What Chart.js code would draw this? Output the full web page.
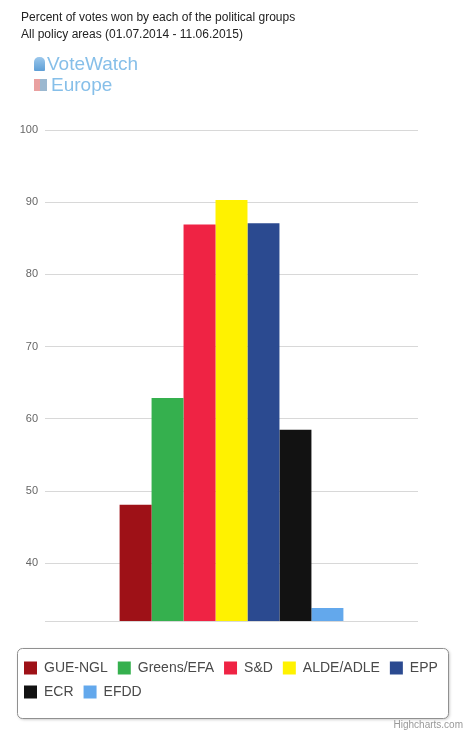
<!DOCTYPE html>
<html>
<head>
<meta charset="utf-8">
<script src="https://cdn.jsdelivr.net/npm/chart.js@4/dist/chart.umd.min.js"></script>
<style>
  html, body { margin: 0; padding: 0; background: #fff; }
  #wrap { position: relative; width: 464px; height: 731px; overflow: hidden; }
  #title { position: absolute; left: 21px; top: 9px; font: 12px "Liberation Sans", Arial, sans-serif; color: #222; line-height: 17px; white-space: nowrap; }
  #logo { position: absolute; left: 34px; top: 53px; font: 19px "Liberation Sans", Arial, sans-serif; color: #86bfe9; line-height: 21px; }
  #logo .row { display: flex; align-items: center; }
  #logo .ic { width: 11px; height: 14px; margin-right: 2px; }
  #credit { position: absolute; right: 1px; top: 719px; font: 10px "Liberation Sans", Arial, sans-serif; color: #999; }
  canvas { position: absolute; left: 0; top: 0; }
</style>
</head>
<body>
<div id="wrap">
  <canvas id="c" width="464" height="731"></canvas>
  <div id="title">Percent of votes won by each of the political groups<br>All policy areas (01.07.2014 - 11.06.2015)</div>
  <div id="logo">
    <div class="row"><span class="ic" style="background:linear-gradient(#9cc8ec,#5f9fd6);border-radius:5px 5px 1px 1px;"></span><span>VoteWatch</span></div>
    <div class="row"><span class="ic" style="background:linear-gradient(90deg,#e9a0a0 0 50%,#9bb8d0 50% 100%);height:12px;width:13px;"></span><span style="margin-left:2px">Europe</span></div>
  </div>
  <div id="credit">Highcharts.com</div>
</div>
<script>
const categories = [""];
const groups = ["GUE-NGL", "Greens/EFA", "S&D", "ALDE/ADLE", "EPP", "ECR", "EFDD"];
const values = [48.1, 62.9, 86.9, 90.3, 87.1, 58.5, 33.8];
const colors = ["#9e1117", "#35b04e", "#ef2344", "#fff200", "#2b4a90", "#121212", "#63a8ec"];
const yTicks = [40, 50, 60, 70, 80, 90, 100];

const legendFrame = {
  id: 'legendFrame',
  beforeDraw(chart) {
    const lg = chart.legend;
    if (!lg) return;
    const ctx = chart.ctx;
    const x = lg.left + 3, y = lg.top - 3, w = lg.right - lg.left - 19, h = lg.bottom - lg.top + 12;
    ctx.save();
    ctx.shadowColor = 'rgba(0,0,0,0.25)';
    ctx.shadowBlur = 3;
    ctx.shadowOffsetX = 1;
    ctx.shadowOffsetY = 1;
    ctx.fillStyle = '#fff';
    ctx.strokeStyle = '#909090';
    ctx.lineWidth = 1;
    ctx.beginPath();
    ctx.roundRect(x + 0.5, y + 0.5, w, h, 5);
    ctx.fill();
    ctx.shadowColor = 'transparent';
    ctx.stroke();
    ctx.restore();
  }
};

new Chart(document.getElementById('c'), {
  type: 'bar',
  data: {
    labels: categories,
    datasets: groups.map((g, i) => ({
      label: g,
      data: [values[i]],
      backgroundColor: colors[i],
      borderWidth: 0
    }))
  },
  options: {
    responsive: false,
    animation: false,
    events: [],
    layout: { padding: { top: 130, left: 14, right: 0, bottom: 22 } },
    datasets: { bar: { categoryPercentage: 0.6, barPercentage: 1.0 } },
    scales: {
      x: {
        grid: { display: false },
        border: { display: false },
        ticks: { display: false },
        afterFit(s) { s.height = 30; }
      },
      y: {
        min: 32, max: 100,
        grid: { color: '#d8d8d8', lineWidth: 1, drawTicks: false },
        border: { display: false },
        ticks: {
          stepSize: 10,
          padding: 7,
          color: '#666',
          font: { family: '"Liberation Sans", Arial, sans-serif', size: 11 },
          callback: (v) => yTicks.includes(v) ? String(v) : ''
        },
        afterFit(s) { s.width = 31; }
      },
      y2: {
        position: 'right',
        display: true,
        grid: { display: false },
        border: { display: false },
        ticks: { display: false },
        afterFit(s) { s.width = 46; }
      }
    },
    plugins: {
      tooltip: { enabled: false },
      legend: {
        position: 'bottom',
        align: 'start',
        labels: {
          boxWidth: 13, boxHeight: 13, padding: 10,
          color: '#4a4a4a',
          font: { family: '"Liberation Sans", Arial, sans-serif', size: 14 }
        }
      }
    }
  },
  plugins: [legendFrame]
});
</script>
</body>
</html>
